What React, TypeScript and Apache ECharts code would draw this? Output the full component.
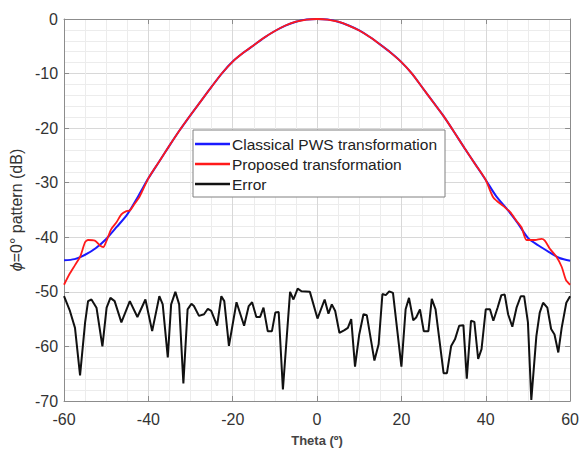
import React, { useEffect, useRef } from "react";
import * as echarts from "echarts";

const classicalTheta = [-60, -57.5, -55, -52.5, -50, -47.5, -45, -42.5, -40, -37.5, -35, -32.5, -30, -27.5, -25, -22.5, -20, -17.5, -15, -12.5, -10, -7.5, -5, -2.5, 0,
  2.5, 5, 7.5, 10, 12.5, 15, 17.5, 20, 22.5, 25, 27.5, 30, 32.5, 35, 37.5, 40, 42.5, 45, 47.5, 50, 52.5, 55, 57.5, 60];
const classicalDb = [-44.2, -44.0, -43.2, -42.0, -40.3, -38.1, -35.8, -32.6, -29.2, -26.2, -23.2, -20.3, -17.6, -15.0, -12.4, -9.9, -7.8, -6.2, -4.8, -3.4, -2.2, -1.2, -0.5, -0.1, 0,
  -0.1, -0.5, -1.2, -2.1, -3.3, -4.7, -6.2, -7.9, -10.0, -12.6, -15.2, -17.8, -20.7, -23.7, -26.6, -29.5, -32.5, -34.8, -37.3, -40.1, -41.5, -42.7, -43.8, -44.3];

const proposedTheta = [-60, -58.6, -57.4, -56.2, -55, -54.3, -52.7, -51.5, -50.7, -49.9, -48.8, -47.6, -46.4, -45.2, -44.4, -43.3, -42.1, -40, -37.5, -35, -32.5, -30, -27.5, -25, -22.5, -20, -17.5, -15, -12.5, -10, -7.5, -5, -2.5, 0,
  2.5, 5, 7.5, 10, 12.5, 15, 17.5, 20, 22.5, 25, 27.5, 30, 32.5, 35, 37.5, 40, 41.8, 44.2, 45.8, 47.3, 48.5, 49.7, 51.7, 53.2, 54.0, 55.2, 56.8, 58.0, 59.0, 60];
const proposedDb = [-48.7, -46.6, -45.1, -43.6, -40.9, -40.5, -40.6, -41.5, -41.8, -40.6, -38.5, -37.3, -35.8, -35.2, -35.1, -33.9, -32.6, -29.2, -26.2, -23.2, -20.3, -17.6, -15.0, -12.4, -9.9, -7.8, -6.2, -4.8, -3.4, -2.2, -1.2, -0.5, -0.1, 0,
  -0.1, -0.5, -1.2, -2.1, -3.3, -4.7, -6.2, -7.9, -10.0, -12.6, -15.2, -17.8, -20.7, -23.7, -26.6, -29.5, -32.7, -34.3, -35.4, -37.0, -38.2, -40.5, -40.5, -40.3, -40.6, -42.1, -43.6, -45.4, -47.8, -48.7];

const errorTheta = [-60, -58.6, -57.4, -56.2, -55.0, -54.3, -53.5, -52.3, -50.9, -49.9, -49.0, -48.0, -46.4, -44.4, -42.6, -40.7, -39.1, -37.4, -36.6, -35.4, -34.6, -33.6, -32.7, -31.7, -30.7,
  -29.8, -29.2, -28.0, -26.8, -25.9, -25.1, -23.7, -22.7, -22.0, -20.9, -19.1, -17.3, -16.2, -15.4, -14.4, -13.5, -12.7, -11.7, -10.7, -9.9, -9.1, -8.1, -6.4, -5.6, -4.6, -3.7, -1.7,
  0.1, 1.8, 2.7, 3.5, 4.3, 5.3, 6.5, 7.3, 8.1, 9.0, 10.0, 11.0, 11.8, 13.6, 14.6, 15.5, 16.3, 17.1, 18.0, 20.0, 21.0, 21.8, 22.8, 23.5, 24.4, 25.3, 26.4, 27.2, 28.1,
  30.0, 30.8, 31.8, 32.7, 33.7, 34.7, 35.5, 36.5, 37.3, 38.2, 39.0, 40.0, 41.0, 41.8, 42.8, 43.7, 44.5, 45.3, 46.3, 47.3, 48.3, 49.1, 50.0, 50.8, 52.0, 52.8, 53.6, 54.6, 55.5, 56.3, 57.2, 58.0, 59.1, 60.0];
const errorDb = [-50.8, -53.5, -56.6, -65.3, -55.6, -51.7, -51.4, -52.9, -60.0, -52.9, -51.1, -51.7, -55.6, -51.7, -54.6, -51.4, -57.2, -50.8, -52.3, -62.0, -52.3, -50.0, -52.3, -66.8, -53.2,
  -52.2, -52.6, -54.4, -54.1, -53.1, -53.5, -56.2, -50.8, -51.7, -59.9, -51.9, -56.2, -52.6, -51.9, -54.6, -54.6, -52.9, -57.2, -57.2, -53.8, -53.7, -67.9, -50.0, -51.4, -49.4, -49.9, -50.0,
  -54.9, -51.4, -54.0, -52.3, -53.5, -57.5, -57.0, -56.6, -55.0, -63.7, -57.8, -54.1, -54.3, -62.6, -59.6, -50.4, -50.6, -49.9, -50.2, -63.7, -53.2, -51.1, -55.2, -54.7, -53.2, -57.2, -57.2, -51.3, -53.2,
  -64.9, -64.9, -59.9, -58.7, -56.2, -56.1, -65.9, -55.3, -55.5, -62.3, -60.5, -53.2, -53.2, -55.3, -52.9, -50.6, -50.5, -54.1, -56.4, -52.9, -50.8, -50.8, -55.6, -69.8, -58.1, -53.8, -52.0, -52.9, -56.8, -57.8, -61.1, -56.6, -52.0, -50.8];

const seriesNames = ["Classical PWS transformation", "Proposed transformation", "Error"];
const xTicks = { min: -60, max: 60, interval: 20 };
const yTicks = { min: -70, max: 0, interval: 10 };

const zip = (a: number[], b: number[]) => a.map((v, i) => [v, b[i]]);

const FONT = "'Liberation Sans', Arial, Helvetica, sans-serif";
const AXIS_COLOR = "#8c8c8c";

export default function App() {
  const ref = useRef<HTMLDivElement>(null);
  useEffect(() => {
    if (!ref.current) return;
    const chart = echarts.init(ref.current, undefined, { renderer: "svg" });
    const boxAxis = {
      type: "value" as const,
      axisLine: { show: true, onZero: false, lineStyle: { color: AXIS_COLOR, width: 1 } },
      axisTick: { show: true, inside: true, length: 5, lineStyle: { color: AXIS_COLOR } },
    };
    chart.setOption({
      animation: false,
      backgroundColor: "#ffffff",
      grid: { left: 62, right: 11, top: 19, bottom: 46, containLabel: false },
      legend: {
        orient: "vertical",
        left: 193,
        top: 130,
        data: seriesNames,
        icon: "rect",
        itemWidth: 35,
        itemHeight: 2.5,
        itemGap: 2,
        padding: [5, 8, 4, 2],
        borderColor: "#808080",
        borderWidth: 1,
        backgroundColor: "#ffffff",
        textStyle: { fontSize: 15.5, fontFamily: FONT, color: "#222", lineHeight: 18, padding: [0, 0, 0, -3] },
      },
      xAxis: [
        {
          ...boxAxis,
          ...xTicks,
          position: "bottom",
          axisLabel: { color: "#333", fontSize: 16, fontFamily: FONT, margin: 10 },
          splitLine: { show: true, lineStyle: { color: "#d8d8d8" } },
          minorTick: { show: false, splitNumber: 4 },
          minorSplitLine: { show: true, lineStyle: { color: "#ececec" } },
          name: "Theta (º)",
          nameLocation: "middle",
          nameGap: 33,
          nameTextStyle: { fontSize: 13, fontWeight: "bold", fontFamily: FONT, color: "#444" },
        },
        {
          ...boxAxis,
          ...xTicks,
          position: "top",
          axisLabel: { show: false },
          splitLine: { show: false },
        },
      ],
      yAxis: [
        {
          ...boxAxis,
          ...yTicks,
          position: "left",
          axisLabel: { color: "#333", fontSize: 16, fontFamily: FONT, margin: 6 },
          splitLine: { show: true, lineStyle: { color: "#d8d8d8" } },
          minorTick: { show: false, splitNumber: 5 },
          minorSplitLine: { show: true, lineStyle: { color: "#ececec" } },
          name: "{i|ϕ}=0° pattern (dB)",
          nameLocation: "middle",
          nameGap: 34,
          nameTextStyle: {
            fontSize: 16,
            fontFamily: FONT,
            color: "#333",
            rich: { i: { fontStyle: "italic", fontSize: 16, fontFamily: FONT, color: "#333" } },
          },
        },
        {
          ...boxAxis,
          ...yTicks,
          position: "right",
          axisLabel: { show: false },
          splitLine: { show: false },
        },
      ],
      series: [
        {
          name: seriesNames[0],
          type: "line",
          data: zip(classicalTheta, classicalDb),
          smooth: 0.3,
          symbol: "none",
          lineStyle: { color: "#1a1aff", width: 2 },
          itemStyle: { color: "#1a1aff" },
          z: 2,
        },
        {
          name: seriesNames[1],
          type: "line",
          data: zip(proposedTheta, proposedDb),
          smooth: 0.25,
          symbol: "none",
          lineStyle: { color: "#ff1a1a", width: 1.8 },
          itemStyle: { color: "#ff1a1a" },
          z: 3,
        },
        {
          name: seriesNames[2],
          type: "line",
          data: zip(errorTheta, errorDb),
          symbol: "none",
          lineStyle: { color: "#111111", width: 2 },
          itemStyle: { color: "#111111" },
          z: 4,
        },
      ],
    });
    return () => chart.dispose();
  }, []);
  return <div ref={ref} style={{ width: 582, height: 452, position: "absolute", left: 0, top: 0 }} />;
}
